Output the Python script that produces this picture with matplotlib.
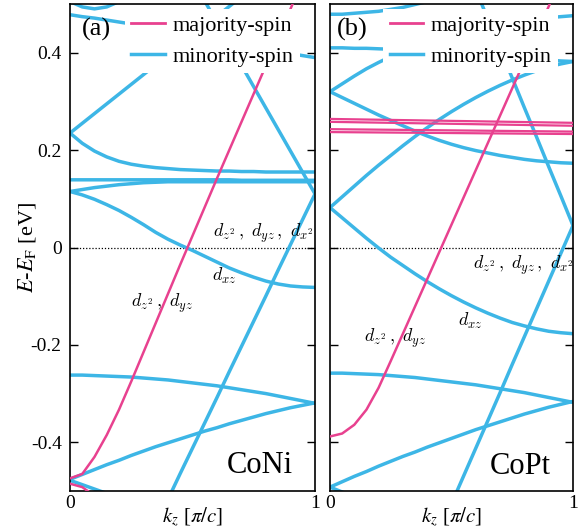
import numpy as np
import matplotlib
matplotlib.use("Agg")
import matplotlib.pyplot as plt
from matplotlib.lines import Line2D

plt.rcParams['font.family'] = ['Liberation Serif', 'DejaVu Serif']
plt.rcParams['mathtext.fontset'] = 'stix'
plt.rcParams['axes.unicode_minus'] = False

BLUE = '#3db6e6'
PINK = '#e8418f'

# k grid (0 .. 1 in steps of 0.05)
kz = np.linspace(0, 1, 21)

# ---------------- CoNi (a) ----------------
coni_maj_1 = [-0.474, -0.465, -0.430, -0.385, -0.333, -0.275, -0.215, -0.155, -0.095, -0.035, 0.024,
              0.083, 0.142, 0.200, 0.258, 0.316, 0.374, 0.432, 0.490, 0.548, 0.606]
coni_maj_2 = [-0.485, -0.492, -0.510, -0.540, -0.580, -0.630, -0.690, -0.750, -0.810, -0.870, -0.930,
              -0.990, -1.050, -1.110, -1.170, -1.230, -1.290, -1.350, -1.410, -1.470, -1.530]

coni_min_1 = [-0.476, -0.466, -0.456, -0.446, -0.437, -0.427, -0.418, -0.409, -0.401, -0.393, -0.385,
              -0.377, -0.370, -0.362, -0.355, -0.348, -0.341, -0.335, -0.329, -0.324, -0.319]
coni_min_2 = [-0.262, -0.262, -0.263, -0.264, -0.265, -0.266, -0.268, -0.270, -0.272, -0.275, -0.278,
              -0.281, -0.284, -0.288, -0.292, -0.296, -0.300, -0.305, -0.310, -0.315, -0.320]
coni_min_3 = [-0.478, -0.487, -0.496, -0.505, -0.514, -0.523, -0.532, -0.541, -0.550, -0.559, -0.568,
              -0.577, -0.586, -0.595, -0.604, -0.613, -0.622, -0.631, -0.640, -0.649, -0.658]
coni_min_4 = [-0.935, -0.882, -0.830, -0.778, -0.726, -0.673, -0.621, -0.569, -0.517, -0.464, -0.412,
              -0.360, -0.308, -0.255, -0.203, -0.151, -0.099, -0.046, 0.006, 0.058, 0.110]
coni_min_5 = [0.990, 0.946, 0.902, 0.858, 0.814, 0.770, 0.726, 0.682, 0.638, 0.594, 0.550,
              0.506, 0.462, 0.418, 0.374, 0.330, 0.286, 0.242, 0.198, 0.154, 0.110]
coni_min_6 = [0.235, 0.255, 0.275, 0.295, 0.315, 0.335, 0.355, 0.375, 0.395, 0.415, 0.435,
              0.455, 0.475, 0.495, 0.515, 0.535, 0.555, 0.575, 0.595, 0.615, 0.635]
coni_min_7 = [0.235, 0.214, 0.198, 0.186, 0.177, 0.171, 0.167, 0.164, 0.162, 0.160, 0.159,
              0.158, 0.157, 0.157, 0.156, 0.156, 0.155, 0.155, 0.155, 0.155, 0.155]
coni_min_8 = [0.139, 0.139, 0.139, 0.139, 0.139, 0.139, 0.139, 0.139, 0.139, 0.139, 0.139,
              0.139, 0.139, 0.139, 0.138, 0.138, 0.138, 0.138, 0.138, 0.138, 0.138]
coni_min_9 = [0.115, 0.119, 0.123, 0.126, 0.129, 0.131, 0.133, 0.134, 0.135, 0.135, 0.135,
              0.135, 0.135, 0.135, 0.135, 0.135, 0.135, 0.135, 0.135, 0.135, 0.135]
coni_min_10 = [0.115, 0.108, 0.099, 0.088, 0.076, 0.062, 0.047, 0.031, 0.017, 0.005, -0.006,
               -0.018, -0.030, -0.042, -0.052, -0.061, -0.069, -0.075, -0.079, -0.081, -0.082]
coni_min_11 = [0.478, 0.474, 0.471, 0.467, 0.463, 0.459, 0.455, 0.451, 0.446, 0.442, 0.437,
               0.433, 0.428, 0.423, 0.418, 0.413, 0.408, 0.403, 0.398, 0.394, 0.390]
coni_min_12 = [0.505, 0.494, 0.490, 0.494, 0.505, 0.520, 0.540, 0.560, 0.580, 0.600, 0.620,
               0.640, 0.660, 0.680, 0.700, 0.720, 0.740, 0.760, 0.780, 0.800, 0.820]

# ---------------- CoPt (b) ----------------
copt_maj_1 = [-0.388, -0.382, -0.364, -0.333, -0.288, -0.233, -0.177, -0.121, -0.065, -0.009, 0.047,
              0.103, 0.159, 0.215, 0.271, 0.327, 0.383, 0.439, 0.495, 0.551, 0.607]
# nearly flat majority bands (k = 0 and k = 1)
copt_flat_k = [0, 1]
copt_maj_2 = [0.264, 0.256]
copt_maj_3 = [0.258, 0.250]
copt_maj_4 = [0.243, 0.238]
copt_maj_5 = [0.237, 0.233]

copt_min_1 = [-0.492, -0.481, -0.470, -0.460, -0.449, -0.439, -0.429, -0.420, -0.410, -0.401, -0.392,
              -0.383, -0.374, -0.366, -0.358, -0.350, -0.342, -0.335, -0.328, -0.322, -0.316]
copt_min_2 = [-0.492, -0.502, -0.512, -0.522, -0.532, -0.542, -0.552, -0.562, -0.572, -0.582, -0.592,
              -0.602, -0.612, -0.622, -0.632, -0.642, -0.652, -0.662, -0.672, -0.682, -0.692]
copt_min_3 = [-0.258, -0.258, -0.259, -0.260, -0.261, -0.263, -0.265, -0.267, -0.270, -0.273, -0.276,
              -0.279, -0.282, -0.286, -0.290, -0.294, -0.298, -0.303, -0.308, -0.313, -0.318]
copt_min_4 = [-1.097, -1.040, -0.983, -0.926, -0.869, -0.812, -0.754, -0.697, -0.640, -0.583, -0.526,
              -0.469, -0.412, -0.355, -0.298, -0.240, -0.183, -0.126, -0.069, -0.012, 0.045]
copt_min_5 = [1.255, 1.195, 1.134, 1.074, 1.013, 0.953, 0.892, 0.832, 0.771, 0.711, 0.650,
              0.590, 0.529, 0.469, 0.408, 0.348, 0.287, 0.227, 0.166, 0.106, 0.045]
copt_min_6 = [0.320, 0.336, 0.352, 0.367, 0.380, 0.392, 0.403, 0.413, 0.422, 0.430, 0.437,
              0.443, 0.449, 0.454, 0.458, 0.462, 0.466, 0.469, 0.472, 0.474, 0.476]
copt_min_7 = [0.320, 0.308, 0.296, 0.284, 0.272, 0.261, 0.250, 0.239, 0.229, 0.220, 0.212,
              0.205, 0.199, 0.194, 0.189, 0.185, 0.181, 0.178, 0.176, 0.174, 0.173]
copt_min_8 = [0.082, 0.104, 0.126, 0.148, 0.169, 0.189, 0.209, 0.228, 0.246, 0.263, 0.279,
              0.294, 0.308, 0.321, 0.333, 0.344, 0.354, 0.363, 0.371, 0.377, 0.382]
copt_min_9 = [0.082, 0.061, 0.040, 0.019, -0.001, -0.020, -0.037, -0.054, -0.070, -0.085, -0.099,
              -0.112, -0.124, -0.135, -0.145, -0.154, -0.161, -0.167, -0.172, -0.175, -0.177]
copt_min_10 = [0.410, 0.410, 0.409, 0.409, 0.408, 0.407, 0.406, 0.405, 0.404, 0.402, 0.401,
               0.399, 0.397, 0.395, 0.393, 0.391, 0.389, 0.387, 0.385, 0.383, 0.382]
copt_min_11 = [0.479, 0.479, 0.481, 0.483, 0.485, 0.489, 0.493, 0.499, 0.505, 0.511, 0.519,
               0.527, 0.536, 0.546, 0.557, 0.569, 0.581, 0.594, 0.608, 0.623, 0.639]

coni_maj = [coni_maj_1, coni_maj_2]
coni_min = [coni_min_1, coni_min_2, coni_min_3, coni_min_4, coni_min_5, coni_min_6,
            coni_min_7, coni_min_8, coni_min_9, coni_min_10, coni_min_11, coni_min_12]
copt_maj = [copt_maj_1]
copt_flat = [copt_maj_2, copt_maj_3, copt_maj_4, copt_maj_5]
copt_min = [copt_min_1, copt_min_2, copt_min_3, copt_min_4, copt_min_5, copt_min_6,
            copt_min_7, copt_min_8, copt_min_9, copt_min_10, copt_min_11]

orb3 = r'$d_{z^2}\,,\ d_{yz}\,,\ d_{x^2}$'
orb2 = r'$d_{z^2}\,,\ d_{yz}$'
orbxz = r'$d_{xz}$'

fig = plt.figure(figsize=(5.88, 5.29), dpi=100)
ax1 = fig.add_axes([70/588, 38/529, 245/588, 487/529])
ax2 = fig.add_axes([330/588, 38/529, 243/588, 487/529])


def setup(ax, left_labels):
    ax.set_xlim(0, 1)
    ax.set_ylim(-0.5, 0.5)
    ax.axhline(0, color='k', lw=0.9, ls=(0, (1, 1.5)), zorder=1)
    ax.set_xticks([0, 1])
    ax.set_xticklabels(['0', '1'])
    ax.set_yticks([-0.4, -0.2, 0, 0.2, 0.4])
    ax.set_yticklabels(['-0.4', '-0.2', '0', '0.2', '0.4'])
    ax.tick_params(axis='y', direction='in', length=6, width=1, left=True, right=True,
                   labelleft=left_labels, labelsize=14, pad=6)
    ax.tick_params(axis='x', length=0, labelsize=14, pad=3)
    for s in ax.spines.values():
        s.set_linewidth(1.2)
    ax.set_xlabel(r'$k_z$ [$\pi/c$]', fontsize=15, labelpad=-5)
    handles = [Line2D([], [], color=PINK, lw=2), Line2D([], [], color=BLUE, lw=2.5)]
    return handles


def add_legend(ax, handles, x):
    leg = ax.legend(handles, ['majority-spin', 'minority-spin'], loc='upper right',
                    bbox_to_anchor=(x, 0.99), fontsize=16, frameon=True, framealpha=1,
                    edgecolor='none', fancybox=False, handlelength=1.5, handletextpad=0.35,
                    labelspacing=0.45, borderpad=0.3, borderaxespad=0)
    leg.set_zorder(5)


h = setup(ax1, True)
for e in coni_min:
    ax1.plot(kz, e, color=BLUE, lw=2.5, solid_capstyle='butt', zorder=2)
for e in coni_maj:
    ax1.plot(kz, e, color=PINK, lw=1.8, zorder=3)
ax1.set_ylabel(r'$E$-$E_{\rm F}$ [eV]', fontsize=16, labelpad=-5)
ax1.text(0.106, 0.948, '(a)', transform=ax1.transAxes, fontsize=19, ha='center', va='center', zorder=10)
ax1.text(0.776, 0.053, 'CoNi', transform=ax1.transAxes, fontsize=22, ha='center', va='center')
ax1.text(0.584, 0.029, orb3, fontsize=13, ha='left', va='center', math_fontfamily='cm')
ax1.text(0.629, -0.058, orbxz, fontsize=13, ha='center', va='center', math_fontfamily='cm')
ax1.text(0.375, -0.115, orb2, fontsize=13, ha='center', va='center', math_fontfamily='cm')
add_legend(ax1, h, 0.939)

h = setup(ax2, False)
for e in copt_min:
    ax2.plot(kz, e, color=BLUE, lw=2.5, solid_capstyle='butt', zorder=2)
for e in copt_maj:
    ax2.plot(kz, e, color=PINK, lw=1.8, zorder=3)
for e in copt_flat:
    ax2.plot(copt_flat_k, e, color=PINK, lw=1.6, zorder=3)
ax2.text(0.09, 0.948, '(b)', transform=ax2.transAxes, fontsize=19, ha='center', va='center', zorder=10)
ax2.text(0.782, 0.051, 'CoPt', transform=ax2.transAxes, fontsize=22, ha='center', va='center')
ax2.text(0.588, -0.037, orb3, fontsize=13, ha='left', va='center', math_fontfamily='cm')
ax2.text(0.576, -0.150, orbxz, fontsize=13, ha='center', va='center', math_fontfamily='cm')
ax2.text(0.267, -0.186, orb2, fontsize=13, ha='center', va='center', math_fontfamily='cm')
add_legend(ax2, h, 0.94)

fig.savefig('out.png', dpi=100)
